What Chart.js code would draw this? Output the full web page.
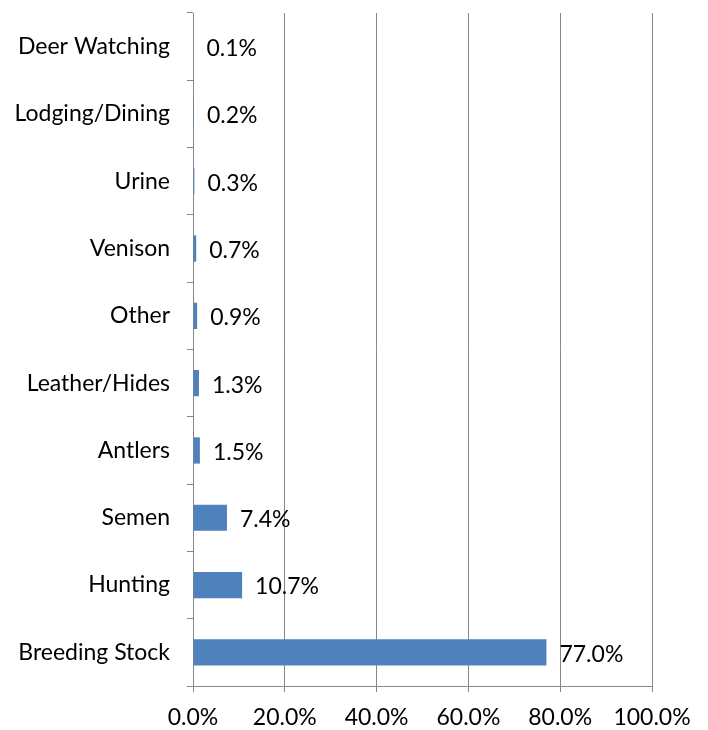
<!DOCTYPE html>
<html>
<head>
<meta charset="utf-8">
<script src="https://cdn.jsdelivr.net/npm/chart.js@4"></script>
<style>
  html, body { margin: 0; padding: 0; background: #ffffff; }
  #wrap { width: 708px; height: 730px; position: relative; }
</style>
</head>
<body>
<div id="wrap"><canvas id="revenueChart"></canvas></div>
<script>
// Kategori dari atas ke bawah
const categories = ['Deer Watching', 'Lodging/Dining', 'Urine', 'Venison', 'Other',
  'Leather/Hides', 'Antlers', 'Semen', 'Hunting', 'Breeding Stock'];
// Persentase per kategori
const shares = [0.1, 0.2, 0.3, 0.7, 0.9, 1.3, 1.5, 7.4, 10.7, 77.0];
// Label sumbu x
const xTicks = [0, 20, 40, 60, 80, 100];

const fontFamily = 'Lato, "Open Sans", sans-serif';
const fontSize = 23;
const axisGray = '#868686';

// Plugin kecil untuk menulis nilai di ujung batang
const valueLabels = {
  id: 'valueLabels',
  afterDatasetsDraw(chart) {
    const ctx = chart.ctx;
    const meta = chart.getDatasetMeta(0);
    ctx.save();
    ctx.font = fontSize + 'px ' + fontFamily;
    ctx.fillStyle = '#000000';
    ctx.textAlign = 'left';
    ctx.textBaseline = 'middle';
    meta.data.forEach((bar, i) => {
      ctx.fillText(shares[i].toFixed(1) + '%', bar.x + 13, bar.y + 2);
    });
    ctx.restore();
  }
};

const ctx = document.getElementById('revenueChart').getContext('2d');
new Chart(ctx, {
  type: 'bar',
  data: {
    labels: categories,
    datasets: [{
      data: shares,
      backgroundColor: '#4F81BD',
      borderWidth: 0,
      categoryPercentage: 1,
      barPercentage: 0.39
    }]
  },
  plugins: [valueLabels],
  options: {
    indexAxis: 'y',
    responsive: true,
    maintainAspectRatio: false,
    animation: false,
    layout: { padding: { top: 13, right: 56, bottom: 0, left: 0 } },
    plugins: {
      legend: { display: false },
      tooltip: { enabled: false }
    },
    scales: {
      x: {
        min: 0,
        max: 100,
        afterBuildTicks: scale => { scale.ticks = xTicks.map(v => ({ value: v })); },
        afterFit: scale => { scale.height = 44; },
        border: { color: axisGray, width: 1 },
        grid: {
          color: axisGray,
          lineWidth: 1,
          tickLength: 6
        },
        ticks: {
          color: '#000000',
          padding: 12,
          font: { family: fontFamily, size: fontSize },
          callback: v => v.toFixed(1) + '%'
        }
      },
      y: {
        afterFit: scale => {
          scale.width = 193;
          scale.paddingTop = 0;
          scale.paddingBottom = 0;
        },
        border: { color: axisGray, width: 1 },
        grid: {
          drawOnChartArea: false,
          color: axisGray,
          tickLength: 6,
          offset: true
        },
        ticks: {
          color: '#000000',
          padding: 17,
          font: { family: fontFamily, size: fontSize }
        }
      }
    }
  }
});
</script>
</body>
</html>
